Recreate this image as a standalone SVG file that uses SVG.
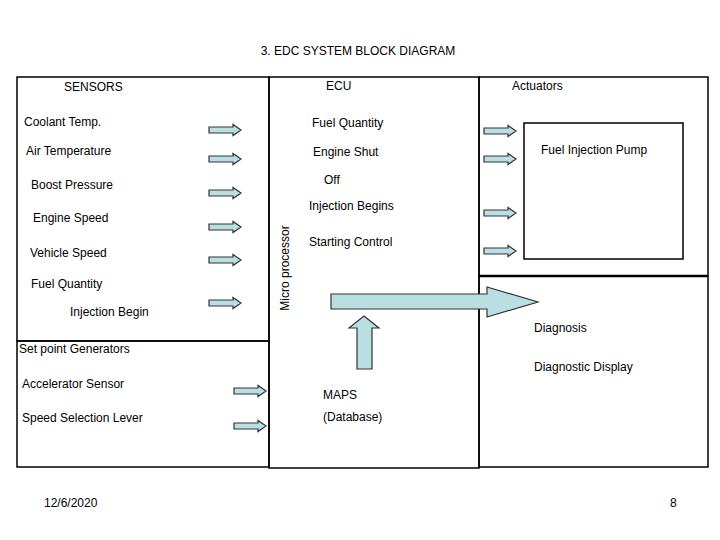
<svg xmlns="http://www.w3.org/2000/svg" width="720" height="540" viewBox="0 0 720 540">
<defs>
<style>
text{font-family:"Liberation Sans",Arial,sans-serif;font-size:12px;fill:#000}
.box{fill:none;stroke:#000;stroke-width:1.5}
.arr{fill:#BADFE3;stroke:#333;stroke-width:1.2}
</style>
<path id="sa" class="arr" d="M0,-3 H24 V-5.5 L32,0 L24,5.5 V3 H0 Z"/>
</defs>
<rect width="720" height="540" fill="#fff"/>
<text x="358" y="55" text-anchor="middle">3. EDC SYSTEM BLOCK DIAGRAM</text>

<g id="sensors">
<rect class="box" x="17" y="77" width="252" height="264"/>
<text x="64" y="91">SENSORS</text>
<text x="24" y="126">Coolant Temp.</text>
<text x="26" y="155">Air Temperature</text>
<text x="31" y="189">Boost Pressure</text>
<text x="33" y="222">Engine Speed</text>
<text x="30" y="257">Vehicle Speed</text>
<text x="31" y="288">Fuel Quantity</text>
<text x="70" y="316">Injection Begin</text>
</g>

<g id="setpoint">
<rect class="box" x="17" y="341" width="252" height="126"/>
<text x="19" y="353">Set point Generators</text>
<text x="22" y="388">Accelerator Sensor</text>
<text x="22" y="422">Speed Selection Lever</text>
</g>

<g id="ecu">
<rect class="box" x="269" y="77" width="210" height="391"/>
<text x="326" y="90">ECU</text>
<text x="312" y="127">Fuel Quantity</text>
<text x="313" y="156">Engine Shut</text>
<text x="324" y="184">Off</text>
<text x="309" y="210">Injection Begins</text>
<text x="309" y="246">Starting Control</text>
<text transform="translate(289,268) rotate(-90)" text-anchor="middle">Micro processor</text>
<text x="323" y="399">MAPS</text>
<text x="323" y="421">(Database)</text>
</g>

<g id="actuators">
<rect class="box" x="479" y="77" width="229" height="199"/>
<text x="512" y="90">Actuators</text>
</g>

<g id="pump">
<rect class="box" x="524" y="123" width="159" height="136"/>
<text x="541" y="154">Fuel Injection Pump</text>
</g>

<g id="diagnosis">
<path d="M479,276 H708" stroke="#000" stroke-width="2.5"/>
<path class="box" d="M479,276 V467 H708 V276"/>
<text x="534" y="332">Diagnosis</text>
<text x="534" y="371">Diagnostic Display</text>
</g>

<g id="connectors">
<use href="#sa" x="209" y="130"/>
<use href="#sa" x="209" y="159"/>
<use href="#sa" x="209" y="193"/>
<use href="#sa" x="209" y="227"/>
<use href="#sa" x="209" y="260"/>
<use href="#sa" x="209" y="303"/>
<use href="#sa" x="234" y="391"/>
<use href="#sa" x="234" y="426"/>
<use href="#sa" x="484" y="131"/>
<use href="#sa" x="484" y="159"/>
<use href="#sa" x="484" y="213"/>
<use href="#sa" x="484" y="251"/>
<polygon class="arr" points="331,294 487,294 487,287 538,302 487,317 487,309 331,309"/>
<polygon class="arr" points="364,316 379,328 372,328 372,369 357,369 357,328 349,328"/>
</g>

<text x="44" y="507">12/6/2020</text>
<text x="670" y="507">8</text>
</svg>
